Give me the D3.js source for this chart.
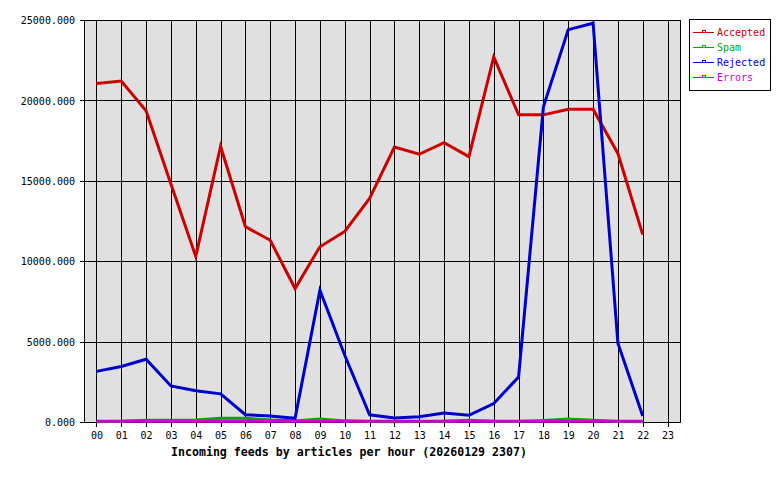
<!DOCTYPE html>
<html>
<head>
<meta charset="utf-8">
<script src="https://cdn.jsdelivr.net/npm/d3@7"></script>
<style>
  body { margin: 0; background: #fff; }
  text { font-family: "DejaVu Sans Mono", monospace; }
</style>
</head>
<body>
<div id="chart"></div>
<script>
// hours on the x axis (data exists up to 22)
var hours = ["00","01","02","03","04","05","06","07","08","09","10","11",
             "12","13","14","15","16","17","18","19","20","21","22","23"];
var yTicks = [0, 5000, 10000, 15000, 20000, 25000];

var accepted = [21050, 21200, 19350, 14800, 10300, 17150, 12150, 11300, 8300, 10900, 11850, 13900,
                17100, 16650, 17370, 16500, 22700, 19100, 19100, 19450, 19450, 16700, 11650];
var spam     = [20, 40, 110, 110, 120, 240, 230, 120, 70, 180, 70, 30,
                20, 30, 40, 110, 40, 30, 90, 190, 110, 30, 20];
var rejected = [3150, 3450, 3900, 2240, 1950, 1750, 450, 380, 230, 8200, 4150, 450,
                250, 330, 560, 420, 1150, 2800, 19600, 24400, 24800, 4900, 380];
var errors   = [40, 40, 40, 40, 40, 40, 40, 40, 40, 40, 40, 40,
                40, 40, 40, 40, 40, 40, 40, 40, 40, 40, 40];

var series = [
    {name: "Accepted", color: "#cc0000", values: accepted},
    {name: "Spam",     color: "#00aa00", values: spam},
    {name: "Rejected", color: "#0000cc", values: rejected},
    {name: "Errors",   color: "#cc00cc", values: errors}
];

var W = 780, H = 480;
var plot = {left: 84, right: 680, top: 20, bottom: 422};

var svg = d3.select("#chart").append("svg")
    .attr("width", W).attr("height", H)
    .attr("shape-rendering", "crispEdges");

var x = d3.scalePoint().domain(hours).range([plot.left, plot.right]).padding(0.5);
var y = d3.scaleLinear().domain([0, 25000]).range([plot.bottom, plot.top]);

// plot background
svg.append("rect")
    .attr("x", plot.left).attr("y", plot.top)
    .attr("width", plot.right - plot.left).attr("height", plot.bottom - plot.top)
    .attr("fill", "#e0e0e0");

// vertical grid
svg.append("g").selectAll("line").data(hours).join("line")
    .attr("x1", d => Math.round(x(d)) + 0.5).attr("x2", d => Math.round(x(d)) + 0.5)
    .attr("y1", plot.top).attr("y2", plot.bottom + 5)
    .attr("stroke", "#000");

// horizontal grid
svg.append("g").selectAll("line").data(yTicks).join("line")
    .attr("x1", plot.left - 4).attr("x2", plot.right)
    .attr("y1", d => Math.round(y(d)) + 0.5).attr("y2", d => Math.round(y(d)) + 0.5)
    .attr("stroke", "#000");

// frame
svg.append("rect")
    .attr("x", plot.left + 0.5).attr("y", plot.top + 0.5)
    .attr("width", plot.right - plot.left).attr("height", plot.bottom - plot.top)
    .attr("fill", "none").attr("stroke", "#000");

// y axis labels
var yAxis = d3.axisLeft(y).tickValues(yTicks).tickFormat(d3.format(".3f")).tickSize(0).tickPadding(9);
var gy = svg.append("g").attr("transform", "translate(" + plot.left + ",0.5)").call(yAxis);
gy.select(".domain").remove();
gy.selectAll("text").attr("font-size", "10px").attr("font-family", "DejaVu Sans Mono").attr("fill", "#000");

// x axis labels
var xAxis = d3.axisBottom(x).tickSize(0).tickPadding(10);
var gx = svg.append("g").attr("transform", "translate(0," + plot.bottom + ")").call(xAxis);
gx.select(".domain").remove();
gx.selectAll("text").attr("font-size", "10px").attr("font-family", "DejaVu Sans Mono").attr("fill", "#000");

// lines
var line = d3.line()
    .x((d, i) => x(hours[i]))
    .y(d => y(d));

svg.append("g").attr("shape-rendering", "auto").selectAll("path").data(series).join("path")
    .attr("d", d => line(d.values))
    .attr("fill", "none")
    .attr("stroke", d => d.color)
    .attr("stroke-width", 3)
    .attr("stroke-linejoin", "miter");

// title
svg.append("text")
    .attr("x", 349).attr("y", 456)
    .attr("text-anchor", "middle")
    .attr("font-size", "11.6px")
    .attr("font-weight", "bold")
    .text("Incoming feeds by articles per hour (20260129 2307)");

// legend
var lg = svg.append("g");
lg.append("rect")
    .attr("x", 689.5).attr("y", 19.5)
    .attr("width", 81).attr("height", 71)
    .attr("fill", "#fff").attr("stroke", "#000");

var item = lg.selectAll("g.item").data(series).join("g")
    .attr("class", "item")
    .attr("transform", (d, i) => "translate(0," + (32 + i * 15) + ")");
item.append("line")
    .attr("x1", 693).attr("x2", 714).attr("y1", 0.5).attr("y2", 0.5)
    .attr("stroke", d => d.color);
item.append("rect")
    .attr("x", 702.5).attr("y", -1.5).attr("width", 3).attr("height", 2)
    .attr("fill", "none").attr("stroke", d => d.color);
item.append("text")
    .attr("x", 717).attr("y", 4)
    .attr("font-size", "10px")
    .attr("fill", d => d.color)
    .text(d => d.name);
</script>
</body>
</html>
